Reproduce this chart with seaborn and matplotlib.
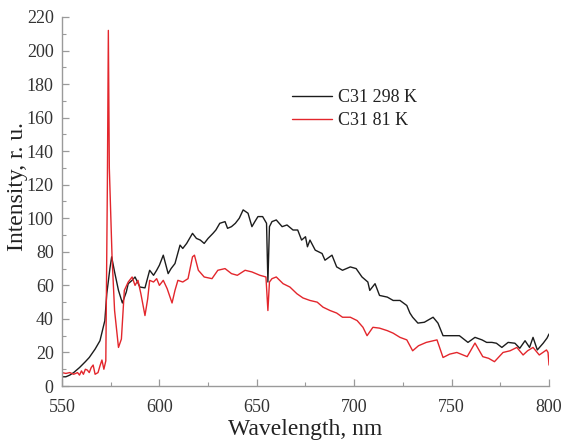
import matplotlib
matplotlib.use("Agg")
import matplotlib.pyplot as plt
from matplotlib.ticker import MultipleLocator
import seaborn as sns
import pandas as pd

# Emission spectrum of sample C31 at room temperature (298 K)
wl_298 = [550, 552, 554, 556, 559, 562, 564, 567, 569.5, 572, 573, 574.6, 575.5,
          577, 579, 581, 583, 584, 586, 587.5, 590, 592.6, 595, 597, 598.6, 600,
          602, 604.5, 606, 608, 610.6, 612, 614, 617, 619, 621, 623, 625, 627.5,
          629, 631, 633.7, 635, 637, 639, 641, 643, 645.5, 647.5, 649, 650.6, 653,
          655, 655.7, 656.5, 657.8, 660, 663, 665.5, 668.6, 671, 673, 675, 676,
          677.3, 680, 683.5, 685, 688.6, 691, 694, 698, 701, 704, 707, 708, 710.7,
          713, 717, 720, 723.5, 727, 728.6, 730, 732.7, 736, 740.5, 743, 745.6,
          750.7, 754, 758.4, 762, 765.6, 768, 770.7, 773, 775.8, 779, 782.5, 785,
          787.7, 790, 791.8, 794, 797, 799, 800]
int_298 = [5.5, 5.5, 6.5, 8, 11, 14.5, 17, 22, 27, 39, 55, 70, 77,
           68, 57, 49.5, 56, 61, 63, 65, 59, 58.5, 69, 66, 69, 72,
           78, 67, 70, 73, 84, 82, 85, 91, 88, 87, 85, 88, 91,
           93, 97, 98, 94, 95, 97, 100, 105, 103, 95, 98, 101, 101,
           97, 62, 95, 98, 99, 95, 96, 93, 93, 87, 89, 83,
           87, 81, 79, 75, 78, 71, 69, 71, 70, 65, 62, 57, 61,
           54, 53, 51, 51, 48, 43.5, 41, 37.5, 38, 41, 37.5, 30,
           30, 30, 26, 29, 27.5, 26, 26, 25.5, 23, 26, 25.5, 22.5,
           27, 23, 29, 21.5, 25.5, 28.6, 31]

# Emission spectrum of sample C31 at 81 K
wl_81 = [550, 552, 554, 556, 558, 559, 560, 561, 562, 563, 564, 565, 566, 567,
         568.5, 569.5, 570.5, 571.5, 572.5, 573.3, 573.8, 574.3, 575.7, 577, 579,
         580.5, 582, 584, 586, 587.5, 589, 590.5, 592.6, 594, 595, 597, 598.6, 600,
         602, 604, 606.5, 608, 609.5, 612, 614.7, 617, 618, 620, 623, 627, 630,
         633.7, 637, 640, 644, 647.5, 651.6, 654.7, 655.7, 656.5, 657.8, 660,
         663.5, 667, 670.6, 673.7, 677.3, 681, 684, 687.6, 691, 694, 698, 701.5,
         704.5, 706.6, 709.6, 713, 717, 720, 723.5, 727, 730, 733, 737, 742.5,
         745.6, 749, 752.7, 758, 762, 766, 769, 772, 776.4, 780, 783.5, 786.7,
         789, 791.8, 795, 798.7, 799.5, 800]
int_81 = [8, 7.5, 8, 7, 8, 6.5, 9, 7, 10, 9.5, 8, 11, 12.5, 7,
          8, 12, 15.5, 10, 15, 120, 212, 130, 77, 45, 23,
          28, 57, 62, 65, 60, 63, 55, 42, 52, 63, 62, 64, 60,
          63, 58, 49.5, 57, 63, 62, 64, 77, 78, 69, 65, 64, 69,
          70, 67, 66, 69, 68, 66, 65, 45, 62, 64, 65,
          61, 59, 55, 52.5, 51, 50, 47, 45, 43.5, 41, 41, 39,
          35, 30, 35, 34.5, 33, 31.5, 29, 27.5, 21, 24, 26, 27.5,
          17, 19, 20, 17.5, 25.6, 17.5, 16.5, 14.5, 20, 21, 23, 18.5,
          21, 23, 18.5, 21.5, 20, 12.5]

label_298 = "C31 298 K"
label_81 = "C31 81 K"

df = pd.concat([
    pd.DataFrame({"Wavelength": wl_298, "Intensity": int_298, "Sample": label_298}),
    pd.DataFrame({"Wavelength": wl_81, "Intensity": int_81, "Sample": label_81}),
], ignore_index=True)

sns.set_theme(style="ticks")
plt.rcParams["font.family"] = ["Liberation Serif", "DejaVu Serif"]

fig = plt.figure(figsize=(5.65, 4.41), dpi=100)
ax = fig.add_axes([0.1097, 0.1247, 0.862, 0.8368])

sns.lineplot(data=df, x="Wavelength", y="Intensity", hue="Sample",
             palette={label_298: "#1c1c1c", label_81: "#e3262c"},
             estimator=None, sort=False, linewidth=1.0, ax=ax)

ax.set_xlim(550, 800)
ax.set_ylim(0, 220)
ax.xaxis.set_major_locator(MultipleLocator(50))
ax.xaxis.set_minor_locator(MultipleLocator(25))
ax.yaxis.set_major_locator(MultipleLocator(20))
ax.yaxis.set_minor_locator(MultipleLocator(10))

for side in ("top", "right"):
    ax.spines[side].set_visible(False)
for side in ("left", "bottom"):
    ax.spines[side].set_color("#9a9a9a")
    ax.spines[side].set_linewidth(1.0)

ax.tick_params(which="major", direction="in", length=5, width=0.9,
               color="#9a9a9a", labelsize=13, labelcolor="#333333", pad=6)
ax.tick_params(which="minor", direction="in", length=3, width=0.8,
               color="#9a9a9a")
ax.tick_params(axis="x", which="major", pad=9)

ax.set_xlabel("Wavelength, nm", fontsize=17, color="#222222")
ax.set_ylabel("Intensity, r. u.", fontsize=17, color="#222222")
ax.xaxis.set_label_coords(0.499, -0.09)
ax.yaxis.set_label_coords(-0.07, 0.54)

leg = ax.legend(loc="upper left", bbox_to_anchor=(0.472, 0.805), frameon=False,
                fontsize=13, handlelength=2.2, handletextpad=0.35,
                labelspacing=0.35, borderaxespad=0, borderpad=0)
for t in leg.get_texts():
    t.set_color("#222222")

fig.savefig("out.png", dpi=100)
